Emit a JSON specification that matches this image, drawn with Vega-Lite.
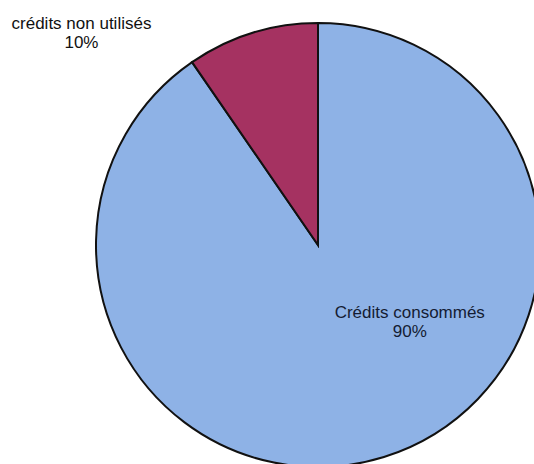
{
  "$schema": "https://vega.github.io/schema/vega-lite/v6.json",
  "width": 534,
  "height": 464,
  "autosize": "none",
  "padding": 0,
  "background": "white",
  "config": {"view": {"stroke": null}},
  "data": {
    "values": [
      {"cat": "Crédits consommés", "value": 90.4, "label": "Crédits consommés\n90%"},
      {"cat": "crédits non utilisés", "value": 9.6, "label": "crédits non utilisés\n10%"}
    ]
  },
  "encoding": {
    "theta": {"field": "value", "type": "quantitative", "stack": true},
    "order": {"field": "value", "type": "quantitative", "sort": "descending"},
    "detail": {"field": "cat", "type": "nominal"}
  },
  "layer": [
    {
      "mark": {"type": "arc", "x": 318, "y": 245, "outerRadius": 222, "stroke": "#111111", "strokeWidth": 2},
      "encoding": {
        "color": {
          "field": "cat",
          "type": "nominal",
          "scale": {"domain": ["Crédits consommés", "crédits non utilisés"], "range": ["#8eb2e6", "#a53261"]},
          "legend": null
        }
      }
    },
    {
      "mark": {"type": "text", "x": 318, "y": 245, "radius": 80, "dx": 68, "dy": -3, "font": "Liberation Sans", "fontSize": 17, "lineBreak": "\n", "lineHeight": 19, "align": "center", "baseline": "alphabetic", "fill": "#141c33"},
      "encoding": {
        "text": {"condition": {"test": "datum.cat === 'Crédits consommés'", "field": "label", "type": "nominal"}, "value": ""}
      }
    },
    {
      "mark": {"type": "text", "x": 318, "y": 245, "radius": 224, "dx": -170, "dy": -2, "font": "Liberation Sans", "fontSize": 17, "lineBreak": "\n", "lineHeight": 18.5, "align": "center", "baseline": "alphabetic", "fill": "#111111"},
      "encoding": {
        "text": {"condition": {"test": "datum.cat === 'crédits non utilisés'", "field": "label", "type": "nominal"}, "value": ""}
      }
    }
  ]
}
